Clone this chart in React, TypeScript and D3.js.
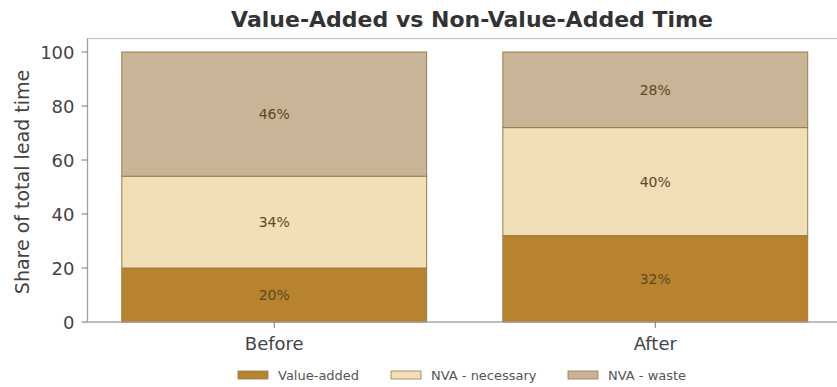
import React from "react";
import * as d3 from "d3";

const categories = ["Before", "After"];
const seriesNames = ["Value-added", "NVA - necessary", "NVA - waste"];
const valueAdded = [20, 32];
const nvaNecessary = [34, 40];
const nvaWaste = [46, 28];
const yTicks = [0, 20, 40, 60, 80, 100];
const colors = ["#b7832f", "#f1dfb8", "#c8b597"];

const W = 837;
const H = 387;
const FONT = "DejaVu Sans, sans-serif";

export default function App() {
  const x = d3.scaleLinear().domain([-0.49, 1.49]).range([87.5, 842]);
  const y = d3.scaleLinear().domain([0, 105]).range([322, 38.5]);
  const seriesVals = [valueAdded, nvaNecessary, nvaWaste];
  const rows = categories.map((c, i) => ({
    cat: c,
    "Value-added": valueAdded[i],
    "NVA - necessary": nvaNecessary[i],
    "NVA - waste": nvaWaste[i],
  }));
  const stack = d3.stack<any>().keys(seriesNames)(rows);
  const barW = 0.8;

  const legendItems = [
    { name: seriesNames[0], px: 238 },
    { name: seriesNames[1], px: 391 },
    { name: seriesNames[2], px: 568 },
  ];

  return (
    <svg
      width={W}
      height={H}
      style={{ position: "fixed", left: 0, top: 0, background: "#ffffff" }}
      fontFamily={FONT}
    >
      <rect x={0} y={0} width={W} height={H} fill="#ffffff" />
      {/* frame */}
      <rect
        x={x(-0.49)}
        y={y(105)}
        width={x(1.49) - x(-0.49)}
        height={y(0) - y(105)}
        fill="none"
        stroke="#c4c4c8"
        strokeWidth={1.2}
      />
      {/* bars */}
      {stack.map((layer, si) =>
        layer.map((d, ci) => (
          <g key={`${si}-${ci}`}>
            <rect
              x={x(ci - barW / 2)}
              y={y(d[1])}
              width={x(ci + barW / 2) - x(ci - barW / 2)}
              height={y(d[0]) - y(d[1])}
              fill={colors[si]}
              stroke="#9c7b45"
              strokeWidth={1}
            />
            <text
              x={x(ci)}
              y={y((d[0] + d[1]) / 2)}
              textAnchor="middle"
              dominantBaseline="central"
              fontSize={14}
              fill="#5e4722"
            >
              {seriesVals[si][ci]}%
            </text>
          </g>
        ))
      )}
      {/* left & bottom spines */}
      <line x1={x(-0.49)} x2={x(-0.49)} y1={y(0)} y2={y(105)} stroke="#a0a0a0" strokeWidth={1.2} />
      <line x1={x(-0.49)} x2={x(1.49)} y1={y(0)} y2={y(0)} stroke="#a0a0a0" strokeWidth={1.2} />
      {/* y ticks */}
      {yTicks.map((t) => (
        <g key={t}>
          <line x1={x(-0.49) - 6} x2={x(-0.49)} y1={y(t)} y2={y(t)} stroke="#777" strokeWidth={1} />
          <text
            x={x(-0.49) - 13}
            y={y(t)}
            textAnchor="end"
            dominantBaseline="central"
            fontSize={18}
            fill="#444"
          >
            {t}
          </text>
        </g>
      ))}
      {/* x ticks */}
      {categories.map((c, i) => (
        <g key={c}>
          <line x1={x(i)} x2={x(i)} y1={y(0)} y2={y(0) + 6} stroke="#777" strokeWidth={1} />
          <text x={x(i)} y={y(0) + 28} textAnchor="middle" fontSize={18} fill="#444">
            {c}
          </text>
        </g>
      ))}
      {/* y label */}
      <text
        transform={`translate(29, 182) rotate(-90)`}
        textAnchor="middle"
        fontSize={19}
        fill="#444"
      >
        Share of total lead time
      </text>
      {/* title */}
      <text x={472} y={27} textAnchor="middle" fontSize={22} fontWeight="bold" fill="#333">
        Value-Added vs Non-Value-Added Time
      </text>
      {/* legend */}
      {legendItems.map((l, i) => (
        <g key={l.name}>
          <rect x={l.px} y={371} width={30} height={8} fill={colors[i]} stroke="#9c7b45" strokeWidth={0.8} />
          <text x={l.px + 40} y={375} dominantBaseline="central" fontSize={13} fill="#555">
            {l.name}
          </text>
        </g>
      ))}
    </svg>
  );
}
